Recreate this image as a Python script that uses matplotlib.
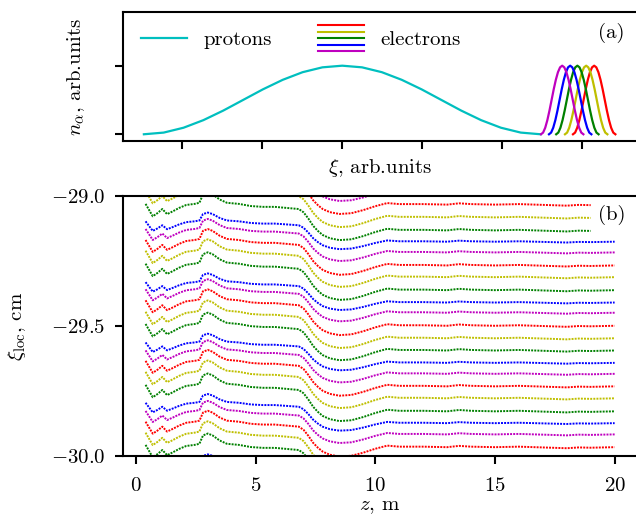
import numpy as np
import matplotlib
matplotlib.use("Agg")
import matplotlib.pyplot as plt
from matplotlib.lines import Line2D

plt.rcParams["font.family"] = "serif"
plt.rcParams["font.serif"] = ["cmr10"]
plt.rcParams["mathtext.fontset"] = "cm"
plt.rcParams["axes.formatter.use_mathtext"] = True
plt.rcParams["font.size"] = 15

# ---- panel (a): density profiles ----
bell_u = np.linspace(-1.0, 1.0, 21)
bell_n = [0.0, 0.0245, 0.0955, 0.206, 0.345, 0.5, 0.655, 0.794, 0.905, 0.976, 1.0,
          0.976, 0.905, 0.794, 0.655, 0.5, 0.345, 0.206, 0.0955, 0.0245, 0.0]
proton_centre = 3.0
proton_halfwidth = 2.48
bunch_colors = ["r", "y", "g", "b", "m"]
bunch_centres = [6.15, 6.05, 5.94, 5.85, 5.75]
bunch_halfwidth = 0.265

# ---- panel (b): local positions of electrons ----
z_knots = [0.40, 0.55, 0.70, 0.90, 1.10, 1.30, 1.55, 1.80, 2.10, 2.45, 2.65, 2.80,
           3.00, 3.20, 3.50, 3.80, 4.30, 4.80, 5.30, 5.80, 6.30, 6.80, 7.00, 7.20,
           7.40, 7.60, 7.80, 8.10, 8.50, 9.00, 9.50, 10.0, 10.5, 11.0, 12.0, 13.0,
           13.5, 14.0, 15.0, 16.0, 17.0, 18.0, 18.5, 19.0, 20.0]
shift = [0.096, 0.073, 0.050, 0.062, 0.077, 0.058, 0.069, 0.081, 0.092, 0.096, 0.100, 0.131,
         0.138, 0.131, 0.112, 0.100, 0.096, 0.088, 0.085, 0.085, 0.081, 0.077, 0.065, 0.042,
         0.015, -0.004, -0.019, -0.031, -0.038, -0.035, -0.023, -0.008, 0.004, 0.0, 0.0, -0.002,
         0.003, 0.0, -0.002, 0.0, -0.003, -0.006, -0.003, -0.004, -0.002]
line_end = [-28.984, -29.031, -29.080, -29.130, -29.174, -29.215, -29.265, -29.310, -29.360,
            -29.408, -29.447, -29.497, -29.545, -29.592, -29.640, -29.682, -29.730, -29.776,
            -29.826, -29.872, -29.915, -29.964, -30.010, -30.057, -30.104]
line_colors = ["m", "r", "y", "g", "b"] * 5
line_stop = [19.0] * 4 + [20.0] * 21
color_gain = {"r": 1.0, "y": 1.04, "g": 1.04, "b": 0.8, "m": 0.92}


class StackedLines:
    def __init__(self, colors):
        self.colors = colors

    def legend_artist(self, legend, orig_handle, fontsize, handlebox):
        x0, y0 = handlebox.xdescent, handlebox.ydescent
        w, h = handlebox.width, handlebox.height
        yc = y0 + h / 2
        for i, c in enumerate(self.colors):
            yy = yc + (2 - i) * 4.6
            handlebox.add_artist(Line2D([x0, x0 + w], [yy, yy], color=c, lw=1.5,
                                        transform=handlebox.get_transform()))
        return handlebox


fig = plt.figure(figsize=(6.36, 5.14), dpi=100)
ax1 = fig.add_axes([0.1934, 0.7257, 0.808, 0.2515])
ax2 = fig.add_axes([0.1934, 0.1128, 0.808, 0.5058])

for ax in (ax1, ax2):
    ax.spines["right"].set_visible(False)
    for s in ("top", "left", "bottom"):
        ax.spines[s].set_linewidth(1.5)
    ax.tick_params(direction="out", length=6, width=1.5, pad=7)

# top panel
p_line, = ax1.plot(proton_centre + proton_halfwidth * bell_u, bell_n, color="c", lw=1.6)
for c, xc in zip(bunch_colors, bunch_centres):
    ax1.plot(xc + bunch_halfwidth * bell_u, bell_n, color=c, lw=1.6)
ax1.set_xlim(0.259, 6.684)
ax1.set_ylim(-0.098, 1.787)
ax1.set_xticks([1, 2, 3, 4, 5, 6])
ax1.set_yticks([0, 1])
ax1.tick_params(labelbottom=False, labelleft=False)
ax1.set_xlabel(r"$\xi$, arb.units")
ax1.set_ylabel(r"$n_\alpha$, arb.units")
ax1.xaxis.set_label_coords(0.5, -0.12)
ax1.yaxis.set_label_coords(-0.07, 0.5)
e_proxy = Line2D([], [], color="r")
ax1.legend([p_line, e_proxy], ["protons", "electrons"], ncol=2, frameon=False,
           loc="center left", bbox_to_anchor=(0.035, 0.78), borderpad=0, borderaxespad=0,
           handlelength=2.2, handletextpad=0.8, columnspacing=2.2,
           handler_map={e_proxy: StackedLines(bunch_colors)})
ax1.text(0.951, 0.835, "(a)", transform=ax1.transAxes, ha="center", va="center")

# bottom panel
for y_end, c, z_stop in zip(line_end, line_colors, line_stop):
    zz = [z for z in z_knots if z <= z_stop]
    yy = [y_end + color_gain[c] * s for z, s in zip(z_knots, shift) if z <= z_stop]
    ax2.plot(zz, yy, color=c, lw=1.4, ls=(0, (1.0, 0.6)))
ax2.set_xlim(-0.543, 20.93)
ax2.set_ylim(-30.0, -29.0)
ax2.set_xticks([0, 5, 10, 15, 20])
ax2.set_xticklabels(["$0$", "$5$", "$10$", "$15$", "$20$"])
ax2.set_yticks([-30.0, -29.5, -29.0])
ax2.set_yticklabels(["$-30.0$", "$-29.5$", "$-29.0$"])
ax2.tick_params(axis="x", pad=9)
ax2.set_xlabel(r"$z$, m")
ax2.set_ylabel(r"$\xi_{\rm loc}$, cm")
ax2.xaxis.set_label_coords(0.5, -0.16)
ax2.yaxis.set_label_coords(-0.185, 0.5)
ax2.text(0.951, 0.927, "(b)", transform=ax2.transAxes, ha="center", va="center")

fig.savefig("out.png", dpi=100)
